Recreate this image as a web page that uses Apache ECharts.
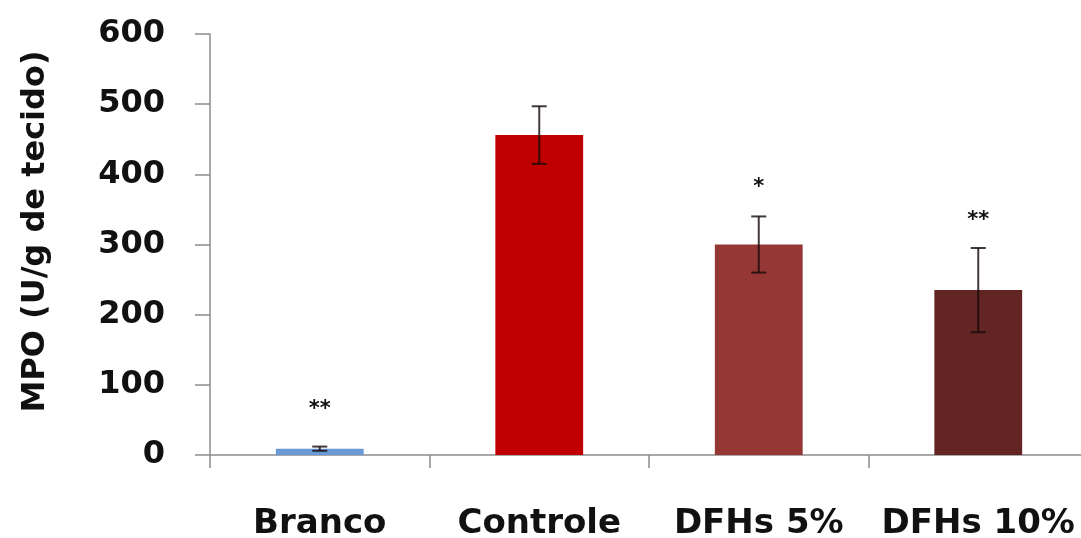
<!DOCTYPE html>
<html>
<head>
<meta charset="utf-8">
<script src="https://cdn.jsdelivr.net/npm/echarts@6/dist/echarts.min.js"></script>
<style>html,body{margin:0;padding:0;background:#fff}#c{width:1081px;height:538px}</style>
</head>
<body>
<div id="c"></div>
<script>
const categories = ['Branco', 'Controle', 'DFHs 5%', 'DFHs 10%'];
const values = [9, 456, 300, 235];
const errors = [3, 41, 40, 60];
const barColors = ['#6a99d8', '#c00000', '#953735', '#632523'];
const markTexts = ['**', '', '*', '**'];
const markLevels = [65, null, 381, 334];
const yTicks = [0, 100, 200, 300, 400, 500, 600];

const FONT = 'DejaVu Sans';
const chart = echarts.init(document.getElementById('c'), null, {renderer: 'canvas'});

const errData = values.map((v, i) => [i, v - errors[i], v + errors[i]]);
const markData = markLevels.map((m, i) => [i, m, markTexts[i]]).filter(d => d[1] != null);

chart.setOption({
  animation: false,
  backgroundColor: '#fff',
  grid: {left: 210, width: 878, top: 34, bottom: 83, containLabel: false, outerBoundsMode: 'none'},
  xAxis: {
    type: 'category',
    data: categories,
    boundaryGap: true,
    axisLine: {show: true, lineStyle: {color: '#8c8c8c', width: 1.5}},
    axisTick: {show: true, alignWithLabel: false, length: 13, lineStyle: {color: '#8c8c8c', width: 1.5}},
    axisLabel: {
      interval: 0, margin: 52,
      fontFamily: FONT, fontWeight: 'bold', fontSize: 34, color: '#111'
    },
    splitLine: {show: false}
  },
  yAxis: {
    type: 'value',
    min: yTicks[0], max: yTicks[yTicks.length - 1], interval: 100,
    name: 'MPO (U/g de tecido)',
    nameLocation: 'middle',
    nameGap: 158,
    nameTextStyle: {fontFamily: FONT, fontWeight: 'bold', fontSize: 32, color: '#111', padding: [0, 0, 0, 26]},
    axisLine: {show: true, lineStyle: {color: '#8c8c8c', width: 1.5}},
    axisTick: {show: true, inside: false, length: 15, lineStyle: {color: '#8c8c8c', width: 1.5}},
    axisLabel: {margin: 45, fontFamily: FONT, fontWeight: 'bold', fontSize: 32, color: '#111'},
    splitLine: {show: false}
  },
  series: [
    {
      type: 'bar',
      barWidth: '40%',
      data: values.map((v, i) => ({value: v, itemStyle: {color: barColors[i]}})),
      z: 2
    },
    {
      type: 'custom',
      z: 3,
      data: errData,
      renderItem: function (params, api) {
        const x = api.value(0);
        const lo = api.coord([x, api.value(1)]);
        const hi = api.coord([x, api.value(2)]);
        const hw = 7.5;
        const style = {stroke: 'rgba(20,10,10,0.8)', lineWidth: 2};
        return {
          type: 'group',
          children: [
            {type: 'line', shape: {x1: hi[0], y1: hi[1], x2: lo[0], y2: lo[1]}, style: style},
            {type: 'line', shape: {x1: hi[0] - hw, y1: hi[1], x2: hi[0] + hw, y2: hi[1]}, style: style},
            {type: 'line', shape: {x1: lo[0] - hw, y1: lo[1], x2: lo[0] + hw, y2: lo[1]}, style: style}
          ]
        };
      }
    },
    {
      type: 'custom',
      z: 4,
      data: markData,
      renderItem: function (params, api) {
        const p = api.coord([api.value(0), api.value(1)]);
        return {
          type: 'text',
          x: p[0], y: p[1],
          style: {
            text: markData[params.dataIndex][2],
            fontFamily: FONT, fontWeight: 'bold', fontSize: 21, fill: '#111',
            align: 'center', verticalAlign: 'middle'
          }
        };
      }
    }
  ]
});
</script>
</body>
</html>
